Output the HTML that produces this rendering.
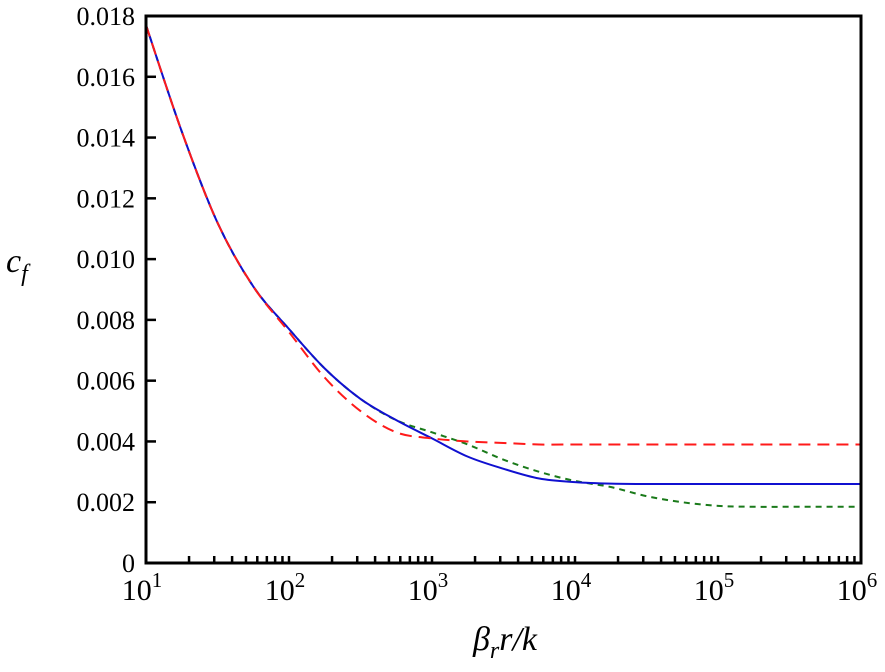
<!DOCTYPE html>
<html><head><meta charset="utf-8"><style>
body{margin:0;background:#fff}
svg{display:block}
svg text{font-family:"Liberation Serif","Times New Roman",serif}
</style></head><body>
<svg id="chart" width="885" height="672" viewBox="0 0 885 672"></svg>
<script>
const logX=[1,1.25,1.5,1.75,2,2.25,2.5,2.75,3,3.25,3.5,3.75,4,4.25,4.5,4.75,5,5.25,5.5,5.75,6];
const blueVals=[0.0177,0.0142,0.0112,0.0091,0.0077,0.0064,0.0054,0.0047,0.0041,0.0035,0.0031,0.00278,0.00266,0.00261,0.0026,0.0026,0.0026,0.0026,0.0026,0.0026,0.0026];
const greenVals=[0.0177,0.0142,0.0112,0.0091,0.0077,0.0064,0.0054,0.0047,0.0043,0.0039,0.0034,0.0030,0.0027,0.0025,0.0022,0.0020,0.00188,0.00185,0.00185,0.00185,0.00185];
const redVals=[0.0177,0.0142,0.0112,0.0091,0.0076,0.0061,0.0050,0.0043,0.0041,0.0040,0.00395,0.0039,0.0039,0.0039,0.0039,0.0039,0.0039,0.0039,0.0039,0.0039,0.0039];
const yTicks=[0,0.002,0.004,0.006,0.008,0.010,0.012,0.014,0.016,0.018];
const yTickLabels=["0","0.002","0.004","0.006","0.008","0.010","0.012","0.014","0.016","0.018"];
const xDecades=[1,2,3,4,5,6];

const L=146,R=861,T=16,B=563;
const sx=v=>L+(v-1)/5*(R-L);
const sy=v=>B-v/0.018*(B-T);
const svg=document.getElementById('chart');
const NS='http://www.w3.org/2000/svg';
function mk(tag,attrs,parent){const e=document.createElementNS(NS,tag);for(const k in attrs)e.setAttribute(k,attrs[k]);(parent||svg).appendChild(e);return e;}

yTicks.forEach((v,i)=>{
  const y=sy(v);
  if(i>0&&i<yTicks.length-1){const t=mk('line',{x1:L,x2:L+10,y1:y,y2:y,stroke:'#000','stroke-width':2.5});
  
  }
  const tx=mk('text',{x:135,y:y+9,'text-anchor':'end','font-size':26});
  tx.textContent=yTickLabels[i];
  
  
});
for(let d=1;d<6;d++){for(let m=2;m<=10;m++){
  const x=sx(d+Math.log10(m));
  const t=mk('line',{x1:x,x2:x,y1:B,y2:B-7,stroke:'#000','stroke-width':2.5});
  
  
}}
xDecades.forEach(d=>{
  const x=sx(d);
  const tx=mk('text',{x:x-4,y:600,'text-anchor':'middle','font-size':30});
  tx.innerHTML='10<tspan font-size="21" dy="-13">'+d+'</tspan>';
  
  
});
function path(vals){
  const p=logX.map((v,i)=>[sx(v),sy(vals[i])]);
  let d='M'+p[0][0]+','+p[0][1];
  for(let i=0;i<p.length-1;i++){
    const p0=p[Math.max(0,i-1)],p1=p[i],p2=p[i+1],p3=p[Math.min(p.length-1,i+2)];
    const c1=[p1[0]+(p2[0]-p0[0])/6,p1[1]+(p2[1]-p0[1])/6];
    const c2=[p2[0]-(p3[0]-p1[0])/6,p2[1]-(p3[1]-p1[1])/6];
    d+=' C'+c1+' '+c2+' '+p2;
  }
  return d;
}
const g=mk('path',{d:path(greenVals),fill:'none',stroke:'#1a7a1a','stroke-width':2,'stroke-dasharray':'6,5'});


const b=mk('path',{d:path(blueVals),fill:'none',stroke:'#1010d0','stroke-width':2});


const r=mk('path',{d:path(redVals),fill:'none',stroke:'#ff1a1a','stroke-width':2,'stroke-dasharray':'12,7'});


const f=mk('rect',{x:L,y:T,width:R-L,height:B-T,fill:'none',stroke:'#000','stroke-width':3});


const xt=mk('text',{x:505,y:650,'text-anchor':'middle','font-size':34,'font-style':'italic'});
xt.innerHTML='β<tspan font-size="24" dy="8">r</tspan><tspan dy="-8">r/k</tspan>';


const yt=mk('text',{x:6,y:272,'font-size':34,'font-style':'italic'});
yt.innerHTML='c<tspan font-size="24" dy="9">f</tspan>';


</script>
</body></html>
